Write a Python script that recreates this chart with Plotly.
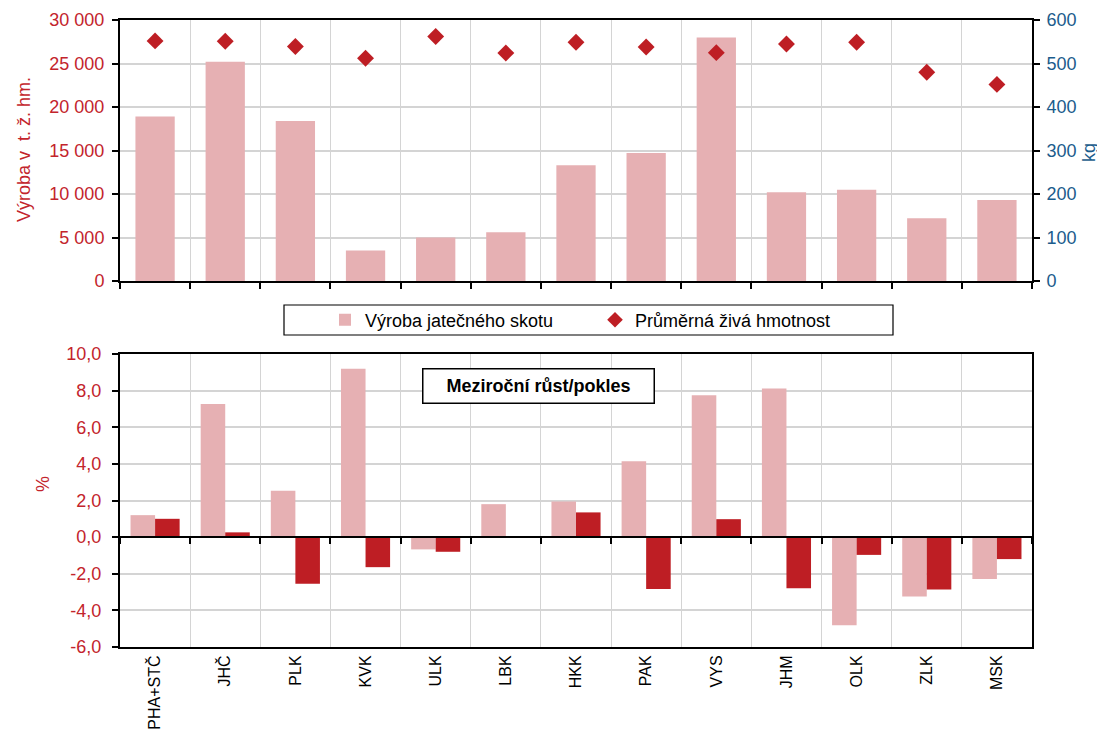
import plotly.graph_objects as go

categories = ["PHA+STČ", "JHČ", "PLK", "KVK", "ULK", "LBK", "HKK", "PAK", "VYS", "JHM", "OLK", "ZLK", "MSK"]
vyroba = [18900, 25200, 18400, 3500, 5000, 5600, 13300, 14700, 28000, 10200, 10500, 7200, 9300]
hmotnost = [552, 551, 539, 512, 562, 524, 549, 538, 525, 545, 549, 480, 452]
rust_vyroba = [1.2, 7.27, 2.53, 9.2, -0.67, 1.8, 1.95, 4.14, 7.75, 8.11, -4.81, -3.24, -2.28]
rust_hmotnost = [1.0, 0.26, -2.55, -1.64, -0.8, 0.03, 1.35, -2.83, 0.98, -2.79, -0.97, -2.86, -1.2]

left_ticks = [0, 5000, 10000, 15000, 20000, 25000, 30000]
left_ticktext = ["0", "5 000", "10 000", "15 000", "20 000", "25 000", "30 000"]
right_ticks = [0, 100, 200, 300, 400, 500, 600]
pct_ticks = [-6, -4, -2, 0, 2, 4, 6, 8, 10]
pct_ticktext = ["-6,0", "-4,0", "-2,0", "0,0", "2,0", "4,0", "6,0", "8,0", "10,0"]

LIGHT = "#e6b0b3"
DARK = "#be1e24"
RED_TXT = "#c3242c"
BLUE_TXT = "#1b5c8c"
GRID = "#d4d4d4"
FONT = "Liberation Sans, Arial, sans-serif"

OFF = 8  # page body margin offset in the screenshot
W, H = 1105 - OFF, 740 - OFF

def px_x(p):
    return (p - OFF) / W

def px_y(p):
    return 1 - (p - OFF) / H

xs = list(range(len(categories)))
bounds = [i - 0.5 for i in range(len(categories) + 1)]

fig = go.Figure()
fig.add_trace(go.Bar(x=xs, y=vyroba, name="Výroba jatečného skotu", marker=dict(color=LIGHT, line=dict(width=0)),
                     width=0.56, xaxis="x", yaxis="y"))
fig.add_trace(go.Scatter(x=xs, y=hmotnost, name="Průměrná živá hmotnost", mode="markers",
                         marker=dict(symbol="diamond", color=DARK, size=13), xaxis="x", yaxis="y3"))
fig.add_trace(go.Bar(x=xs, y=rust_vyroba, marker=dict(color=LIGHT, line=dict(width=0)), width=0.35, offset=-0.35,
                     showlegend=False, xaxis="x2", yaxis="y2"))
fig.add_trace(go.Bar(x=xs, y=rust_hmotnost, marker=dict(color=DARK, line=dict(width=0)), width=0.35, offset=0,
                     showlegend=False, xaxis="x2", yaxis="y2"))
fig.add_trace(go.Scatter(x=[], y=[], showlegend=False, xaxis="x3", yaxis="y2"))

xdom = [px_x(120), px_x(1032)]
top_dom = [px_y(281), px_y(20)]
bot_dom = [px_y(647), px_y(354)]
zero_pos = bot_dom[0] + (6 / 16) * (bot_dom[1] - bot_dom[0])

tickfont_red = dict(family=FONT, size=18, color=RED_TXT)

fig.update_layout(
    width=W, height=H,
    margin=dict(l=0, r=0, t=0, b=0),
    paper_bgcolor="white", plot_bgcolor="white",
    font=dict(family=FONT, size=16, color="black"),
    barmode="overlay",
    xaxis=dict(domain=xdom, anchor="y", range=[-0.5, 12.5], tickmode="array", tickvals=bounds,
               showticklabels=False, ticks="outside", ticklen=6, tickcolor="black", tickwidth=2,
               showgrid=True, gridcolor=GRID, gridwidth=1, showline=True, linecolor="black", linewidth=2,
               mirror=True, zeroline=False, automargin=False),
    yaxis=dict(domain=top_dom, anchor="x", range=[0, 30000], tickmode="array", tickvals=left_ticks,
               ticktext=left_ticktext, tickfont=tickfont_red, ticks="outside", ticklen=6, tickcolor="black",
               tickwidth=1.5, ticklabelstandoff=4, showgrid=True, gridcolor=GRID, gridwidth=1.5, showline=True,
               linecolor="black", linewidth=2, zeroline=False, automargin=False),
    yaxis3=dict(overlaying="y", side="right", anchor="x", range=[0, 600], tickmode="array", tickvals=right_ticks,
                tickfont=dict(family=FONT, size=18, color=BLUE_TXT), ticks="outside", ticklen=6, tickcolor="black",
                tickwidth=1.5, ticklabelstandoff=3, showgrid=False, showline=True, linecolor="black", linewidth=2,
                zeroline=False, automargin=False),
    xaxis2=dict(domain=xdom, anchor="y2", range=[-0.5, 12.5], tickmode="array", tickvals=xs, ticktext=categories,
                tickangle=-90, tickfont=dict(family=FONT, size=16, color="black"), ticks="", showgrid=False,
                minor=dict(tickmode="array", tickvals=bounds, showgrid=True, gridcolor=GRID, gridwidth=1, ticks=""),
                showline=True, linecolor="black", linewidth=2, mirror=True, zeroline=False, automargin=False),
    xaxis3=dict(overlaying="x2", anchor="free", position=zero_pos, range=[-0.5, 12.5], tickmode="array",
                tickvals=bounds, showticklabels=False, ticks="outside", ticklen=6, tickcolor="black", tickwidth=2,
                showgrid=False, showline=True, linecolor="black", linewidth=2, zeroline=False, automargin=False),
    yaxis2=dict(domain=bot_dom, anchor="x2", range=[-6, 10], tickmode="array", tickvals=pct_ticks,
                ticktext=pct_ticktext, tickfont=tickfont_red, ticks="outside", ticklen=6, tickcolor="black",
                tickwidth=1.5, ticklabelstandoff=7, showgrid=True, gridcolor=GRID, gridwidth=1.5, showline=True,
                linecolor="black", linewidth=2, mirror=True, zeroline=False, automargin=False),
    legend=dict(orientation="h", x=px_x(325), y=px_y(320), xanchor="left", yanchor="middle",
                bgcolor="rgba(0,0,0,0)", borderwidth=0,
                font=dict(family=FONT, size=18, color="black"), entrywidth=225, entrywidthmode="pixels",
                itemsizing="constant"),
    shapes=[dict(type="rect", xref="paper", yref="paper", x0=px_x(284), x1=px_x(893), y0=px_y(335), y1=px_y(305),
                 line=dict(color="black", width=1.2), fillcolor="rgba(0,0,0,0)", layer="below")],
    annotations=[
        dict(text="<b>Meziroční růst/pokles</b>", xref="paper", yref="paper", x=px_x(538), y=px_y(386),
             xanchor="center", yanchor="middle", showarrow=False, width=228, height=31,
             font=dict(family=FONT, size=18, color="black"), bordercolor="black", borderwidth=1.5,
             bgcolor="white"),
        dict(text="Výroba v  t. ž. hm.", xref="paper", yref="paper", x=px_x(24), y=px_y(150),
             xanchor="center", yanchor="middle", textangle=-90, showarrow=False,
             font=dict(family=FONT, size=18, color=RED_TXT)),
        dict(text="kg", xref="paper", yref="paper", x=px_x(1089), y=px_y(153),
             xanchor="center", yanchor="middle", textangle=-90, showarrow=False,
             font=dict(family=FONT, size=18, color=BLUE_TXT)),
        dict(text="%", xref="paper", yref="paper", x=px_x(43), y=px_y(484),
             xanchor="center", yanchor="middle", textangle=-90, showarrow=False,
             font=dict(family=FONT, size=18, color=RED_TXT)),
    ],
)

fig.write_html("out.html")
